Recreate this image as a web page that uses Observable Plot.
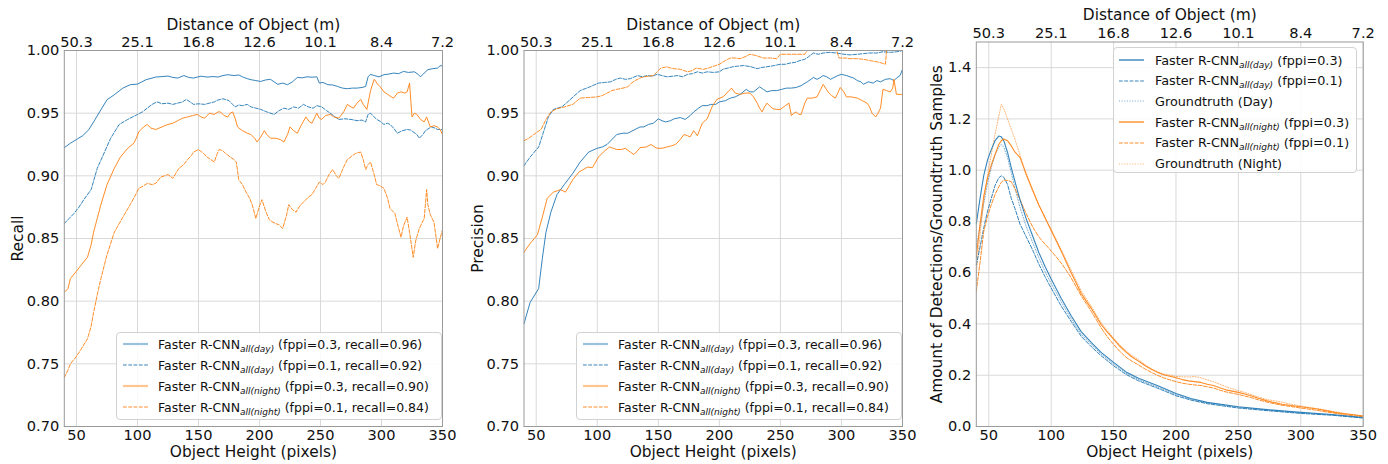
<!DOCTYPE html>
<html>
<head>
<meta charset="utf-8">
<script src="https://cdn.jsdelivr.net/npm/d3@7"></script>
<script src="https://cdn.jsdelivr.net/npm/@observablehq/plot@0.6"></script>
<style>
  html, body { margin: 0; padding: 0; background: #fff; }
  #wrap { position: relative; width: 1388px; height: 464px; font-family: "DejaVu Sans", sans-serif; }
  .panel { position: absolute; top: 0; }
  .legend { position: absolute; box-sizing: border-box; border: 1px solid #d2d2d2; border-radius: 4px;
            background: rgba(255,255,255,0.85); color: #111; }
  .row { position: absolute; left: 0; display: flex; align-items: center; white-space: nowrap; }
  .row svg { display: block; flex: none; }
  .row sub { font-size: 9px; font-style: italic; vertical-align: -3px; line-height: 0; }
</style>
</head>
<body>
<div id="wrap"></div>
<script>
// ---------------- axes ----------------
const xTicks = [50, 100, 150, 200, 250, 300, 350];
const distanceLabels = ["50.3", "25.1", "16.8", "12.6", "10.1", "8.4", "7.2"];
const rateTicks = [0.70, 0.75, 0.80, 0.85, 0.90, 0.95, 1.00];
const amountTicks = [0, 0.2, 0.4, 0.6, 0.8, 1.0, 1.2, 1.4];
const xLabel = "Object Height (pixels)";
const topLabel = "Distance of Object (m)";
const yLabels = ["Recall", "Precision", "Amount of Detections/Groundtruth Samples"];

// ---------------- legend texts ----------------
const legendRecall = [
  ["all(day)", " (fppi=0.3, recall=0.96)"],
  ["all(day)", " (fppi=0.1, recall=0.92)"],
  ["all(night)", " (fppi=0.3, recall=0.90)"],
  ["all(night)", " (fppi=0.1, recall=0.84)"]
];
const legendAmount = [
  ["Faster R-CNN", "all(day)", " (fppi=0.3)"],
  ["Faster R-CNN", "all(day)", " (fppi=0.1)"],
  ["Groundtruth (Day)", "", ""],
  ["Faster R-CNN", "all(night)", " (fppi=0.3)"],
  ["Faster R-CNN", "all(night)", " (fppi=0.1)"],
  ["Groundtruth (Night)", "", ""]
];

// ---------------- panel 1: recall ----------------
const recallDay03 = [[40,0.9225],[45,0.926],[50,0.929],[55,0.932],[60,0.9367],[64,0.943],[70,0.9527],[75,0.9607],[81,0.9647],[88,0.970],[94,0.9727],[100,0.9732],[107,0.9767],[115,0.9788],[120,0.9792],[125,0.9796],[129,0.9785],[133,0.978],[138,0.980],[142,0.9785],[146,0.978],[152,0.9795],[157,0.9788],[162,0.9792],[166,0.9788],[170,0.980],[174,0.9807],[179,0.980],[183,0.9805],[186,0.979],[190,0.9775],[193,0.9767],[197,0.976],[201,0.9753],[205,0.9765],[209,0.977],[212,0.975],[215,0.973],[219,0.974],[223,0.9727],[227,0.975],[231,0.9785],[235,0.9782],[239,0.979],[243,0.9787],[247,0.979],[249,0.974],[252,0.9745],[256,0.9727],[260,0.9725],[264,0.9713],[268,0.970],[272,0.9695],[276,0.970],[280,0.970],[284,0.9705],[287,0.9713],[289,0.979],[291,0.981],[294,0.980],[298,0.979],[302,0.9807],[306,0.9812],[310,0.982],[314,0.9815],[318,0.9833],[322,0.9825],[327,0.983],[330,0.981],[332,0.979],[335,0.982],[338,0.9847],[342,0.9855],[346,0.986],[348,0.9878],[350,0.9879]];
const recallDay01 = [[40,0.862],[44,0.866],[48,0.870],[52,0.875],[56,0.881],[62,0.889],[67,0.906],[73,0.919],[78,0.930],[85,0.941],[92,0.945],[100,0.949],[104,0.951],[108,0.954],[112,0.957],[116,0.959],[120,0.9575],[125,0.958],[129,0.957],[133,0.958],[137,0.959],[140,0.961],[143,0.959],[146,0.957],[150,0.9575],[155,0.957],[159,0.958],[163,0.959],[166,0.9605],[170,0.9615],[175,0.960],[178,0.957],[180,0.955],[183,0.9565],[186,0.956],[190,0.957],[193,0.955],[197,0.954],[201,0.953],[206,0.951],[212,0.949],[216,0.952],[220,0.954],[224,0.953],[228,0.955],[232,0.954],[236,0.957],[240,0.955],[244,0.954],[247,0.956],[251,0.955],[255,0.952],[258,0.950],[262,0.947],[265,0.945],[270,0.9455],[275,0.945],[280,0.944],[284,0.9445],[287,0.943],[289,0.949],[291,0.950],[294,0.947],[296,0.945],[299,0.9435],[302,0.941],[305,0.942],[307,0.941],[310,0.938],[313,0.934],[317,0.936],[321,0.937],[324,0.9365],[326,0.935],[329,0.933],[331,0.930],[334,0.933],[336,0.936],[339,0.938],[341,0.939],[344,0.938],[346,0.937],[350,0.937]];
const recallNight03 = [[40,0.807],[43,0.810],[45,0.818],[50,0.824],[54,0.829],[59,0.835],[62,0.845],[64,0.855],[67,0.866],[70,0.877],[75,0.893],[81,0.906],[86,0.915],[92,0.922],[97,0.926],[99,0.930],[101,0.935],[105,0.939],[108,0.941],[111,0.938],[115,0.937],[120,0.939],[125,0.941],[129,0.942],[133,0.944],[137,0.946],[141,0.947],[145,0.948],[149,0.949],[152,0.947],[155,0.946],[159,0.950],[163,0.949],[166,0.951],[168,0.951],[171,0.948],[174,0.947],[176,0.950],[178,0.951],[180,0.946],[182,0.939],[186,0.936],[190,0.934],[193,0.933],[196,0.930],[198,0.927],[201,0.931],[204,0.936],[206,0.933],[209,0.930],[213,0.930],[217,0.929],[220,0.927],[223,0.933],[225,0.939],[228,0.936],[231,0.934],[234,0.940],[238,0.947],[241,0.943],[243,0.942],[245,0.946],[247,0.950],[249,0.946],[251,0.945],[254,0.948],[258,0.949],[261,0.947],[265,0.946],[269,0.951],[272,0.957],[275,0.955],[277,0.954],[280,0.958],[283,0.961],[285,0.957],[288,0.953],[291,0.968],[294,0.977],[297,0.973],[299,0.971],[302,0.967],[305,0.965],[308,0.963],[310,0.962],[313,0.966],[316,0.967],[319,0.966],[321,0.967],[323,0.974],[325,0.947],[327,0.950],[329,0.949],[332,0.945],[335,0.943],[337,0.947],[340,0.939],[343,0.940],[346,0.939],[348,0.937],[350,0.933]];
const recallNight01 = [[40,0.739],[43,0.745],[45,0.750],[50,0.756],[54,0.762],[59,0.770],[62,0.780],[64,0.791],[67,0.805],[70,0.818],[75,0.837],[81,0.855],[88,0.867],[94,0.877],[98,0.884],[101,0.890],[105,0.892],[108,0.894],[112,0.893],[115,0.894],[119,0.899],[122,0.900],[125,0.901],[129,0.898],[132,0.903],[134,0.906],[138,0.909],[141,0.913],[144,0.916],[146,0.919],[150,0.921],[154,0.918],[157,0.915],[160,0.913],[163,0.911],[165,0.917],[167,0.921],[170,0.920],[172,0.918],[176,0.915],[179,0.913],[181,0.911],[183,0.897],[186,0.893],[189,0.887],[192,0.882],[194,0.877],[197,0.866],[200,0.876],[202,0.881],[205,0.872],[208,0.865],[211,0.863],[213,0.862],[216,0.861],[219,0.858],[222,0.868],[224,0.877],[227,0.873],[230,0.871],[233,0.876],[236,0.879],[240,0.883],[243,0.885],[246,0.890],[249,0.895],[252,0.893],[254,0.895],[257,0.901],[260,0.905],[263,0.900],[265,0.898],[269,0.907],[272,0.913],[276,0.916],[279,0.918],[283,0.919],[285,0.913],[287,0.905],[289,0.909],[291,0.911],[294,0.901],[296,0.893],[299,0.892],[302,0.890],[305,0.882],[307,0.874],[311,0.870],[313,0.862],[316,0.851],[318,0.860],[321,0.867],[323,0.855],[326,0.835],[328,0.848],[331,0.858],[333,0.862],[335,0.866],[337,0.889],[338,0.877],[340,0.869],[343,0.863],[346,0.842],[348,0.850],[350,0.857]];

// ---------------- panel 2: precision ----------------
const precisionDay03 = [[40,0.782],[45,0.799],[52,0.810],[55,0.834],[58,0.855],[62,0.871],[67,0.885],[73,0.893],[80,0.902],[86,0.911],[93,0.919],[100,0.922],[104,0.923],[108,0.925],[112,0.929],[116,0.933],[121,0.934],[125,0.934],[131,0.937],[135,0.939],[138,0.939],[142,0.941],[146,0.942],[150,0.9455],[153,0.944],[156,0.943],[160,0.944],[163,0.9455],[168,0.9465],[172,0.945],[176,0.948],[179,0.951],[183,0.954],[186,0.956],[190,0.956],[193,0.957],[197,0.957],[200,0.959],[205,0.960],[209,0.962],[213,0.963],[217,0.965],[222,0.969],[225,0.967],[228,0.967],[233,0.971],[236,0.969],[239,0.967],[243,0.968],[247,0.968],[251,0.969],[255,0.970],[259,0.970],[263,0.9705],[267,0.972],[272,0.975],[275,0.977],[277,0.9785],[280,0.977],[282,0.978],[285,0.980],[288,0.979],[291,0.977],[293,0.978],[297,0.980],[300,0.981],[304,0.980],[307,0.979],[310,0.978],[313,0.976],[316,0.975],[318,0.973],[322,0.975],[326,0.974],[329,0.976],[332,0.975],[336,0.977],[340,0.9775],[343,0.976],[345,0.978],[348,0.980],[350,0.985]];
const precisionDay01 = [[40,0.908],[45,0.915],[52,0.923],[56,0.935],[60,0.947],[64,0.953],[71,0.955],[78,0.961],[86,0.968],[94,0.971],[101,0.974],[106,0.9745],[111,0.975],[115,0.977],[119,0.978],[123,0.977],[127,0.9775],[133,0.980],[137,0.979],[141,0.980],[145,0.9795],[149,0.981],[153,0.980],[157,0.979],[162,0.9795],[166,0.980],[170,0.979],[174,0.981],[178,0.9815],[182,0.983],[186,0.982],[190,0.983],[195,0.9825],[200,0.983],[203,0.985],[207,0.986],[211,0.987],[215,0.9875],[220,0.988],[226,0.987],[231,0.9855],[235,0.9865],[239,0.987],[245,0.988],[250,0.989],[254,0.989],[258,0.990],[262,0.9905],[266,0.992],[270,0.993],[273,0.995],[277,0.998],[281,0.997],[285,0.998],[290,0.9985],[296,0.998],[299,0.9975],[302,0.997],[307,0.9965],[313,0.997],[318,0.9975],[323,0.998],[329,0.998],[334,0.999],[340,0.9985],[345,0.999],[348,0.9995],[350,1.0]];
const precisionNight03 = [[40,0.839],[45,0.846],[51,0.853],[55,0.867],[59,0.882],[64,0.887],[70,0.889],[74,0.887],[77,0.892],[80,0.897],[85,0.903],[92,0.907],[96,0.9065],[101,0.915],[105,0.919],[110,0.923],[113,0.922],[116,0.921],[120,0.921],[123,0.922],[127,0.919],[130,0.917],[133,0.920],[135,0.9225],[140,0.923],[144,0.925],[147,0.923],[149,0.922],[153,0.922],[157,0.923],[161,0.924],[164,0.925],[168,0.929],[171,0.933],[174,0.932],[176,0.931],[179,0.936],[182,0.932],[184,0.937],[186,0.942],[190,0.9455],[194,0.955],[198,0.961],[203,0.963],[207,0.967],[210,0.970],[213,0.966],[217,0.965],[221,0.966],[225,0.966],[228,0.963],[231,0.958],[233,0.954],[235,0.951],[237,0.955],[239,0.958],[242,0.955],[244,0.9535],[247,0.953],[250,0.953],[254,0.956],[257,0.958],[259,0.948],[261,0.950],[263,0.951],[265,0.949],[267,0.949],[270,0.958],[272,0.962],[276,0.962],[280,0.963],[283,0.969],[285,0.973],[287,0.970],[289,0.967],[292,0.964],[295,0.962],[297,0.966],[299,0.9705],[302,0.967],[304,0.963],[308,0.963],[313,0.962],[317,0.960],[321,0.958],[323,0.955],[325,0.950],[328,0.947],[330,0.950],[332,0.954],[334,0.969],[337,0.968],[340,0.967],[342,0.970],[343,0.977],[345,0.965],[348,0.965],[350,0.965]];
const precisionNight01 = [[40,0.928],[44,0.930],[48,0.933],[54,0.937],[58,0.945],[62,0.951],[67,0.9535],[73,0.955],[80,0.957],[86,0.962],[93,0.9625],[100,0.963],[104,0.964],[108,0.966],[112,0.968],[116,0.969],[121,0.970],[125,0.971],[128,0.974],[131,0.976],[135,0.978],[138,0.979],[142,0.9795],[146,0.980],[149,0.983],[152,0.986],[155,0.9865],[157,0.987],[160,0.986],[163,0.9855],[168,0.985],[171,0.984],[174,0.983],[178,0.984],[181,0.986],[184,0.9855],[187,0.985],[191,0.986],[194,0.987],[197,0.988],[200,0.989],[205,0.992],[209,0.994],[213,0.994],[217,0.9935],[221,0.995],[225,0.997],[230,0.996],[236,0.994],[242,0.994],[247,0.9935],[250,0.997],[255,0.997],[261,0.997],[266,0.997],[270,0.997],[272,1.0],[278,1.0],[283,1.0],[290,1.0],[296,1.0],[298,0.994],[303,0.994],[307,0.9935],[312,0.9935],[318,0.993],[323,0.992],[329,0.991],[333,0.990],[336,0.989],[337,1.0],[343,1.0],[350,1.0]];

// ---------------- panel 3: amount of detections / groundtruth ----------------
const amountDay03 = [[40,0.79],[43,0.89],[46,0.98],[49,1.04],[52,1.08],[55,1.115],[58,1.133],[60,1.13],[62,1.115],[65,1.07],[68,1.01],[71,0.955],[75,0.885],[80,0.81],[85,0.745],[90,0.68],[95,0.625],[100,0.575],[108,0.50],[116,0.432],[124,0.37],[132,0.328],[140,0.289],[150,0.25],[160,0.213],[170,0.188],[185,0.16],[200,0.129],[212,0.109],[225,0.094],[250,0.077],[275,0.065],[300,0.055],[325,0.047],[350,0.035]];
const amountDay01 = [[40,0.63],[43,0.70],[46,0.775],[49,0.84],[52,0.89],[55,0.94],[58,0.97],[60,0.978],[62,0.972],[65,0.945],[68,0.89],[71,0.85],[75,0.79],[80,0.74],[85,0.69],[90,0.635],[95,0.585],[100,0.54],[108,0.47],[116,0.41],[124,0.352],[132,0.312],[140,0.276],[150,0.237],[160,0.203],[170,0.178],[185,0.150],[200,0.120],[212,0.103],[225,0.089],[250,0.072],[275,0.061],[300,0.051],[325,0.044],[350,0.033]];
const groundtruthDay = [[40,0.70],[43,0.78],[46,0.87],[49,0.95],[52,1.01],[55,1.06],[58,1.09],[60,1.10],[62,1.09],[65,1.05],[68,0.99],[71,0.93],[75,0.855],[80,0.78],[85,0.72],[90,0.66],[95,0.605],[100,0.558],[108,0.487],[116,0.42],[124,0.36],[132,0.32],[140,0.283],[150,0.244],[160,0.208],[170,0.183],[185,0.155],[200,0.125],[212,0.106],[225,0.092],[250,0.075],[275,0.063],[300,0.053],[325,0.045],[350,0.034]];
const amountNight03 = [[40,0.66],[43,0.79],[46,0.90],[49,0.97],[52,1.02],[55,1.06],[58,1.10],[60,1.115],[62,1.122],[65,1.115],[68,1.095],[71,1.07],[75,1.05],[80,0.985],[85,0.925],[90,0.865],[95,0.815],[100,0.765],[104,0.725],[108,0.685],[112,0.642],[116,0.60],[120,0.56],[124,0.52],[128,0.49],[132,0.462],[136,0.43],[140,0.398],[145,0.368],[150,0.341],[155,0.313],[160,0.29],[165,0.27],[170,0.255],[175,0.238],[180,0.224],[185,0.212],[190,0.202],[195,0.196],[200,0.19],[205,0.183],[210,0.178],[215,0.175],[220,0.172],[225,0.165],[230,0.16],[235,0.151],[240,0.143],[245,0.138],[250,0.133],[255,0.127],[260,0.12],[266,0.11],[273,0.10],[279,0.093],[285,0.087],[292,0.082],[300,0.077],[306,0.073],[313,0.068],[320,0.062],[327,0.055],[335,0.05],[342,0.046],[350,0.042]];
const amountNight01 = [[40,0.527],[43,0.64],[46,0.762],[49,0.82],[52,0.865],[55,0.905],[58,0.935],[60,0.952],[62,0.961],[65,0.96],[68,0.955],[71,0.927],[75,0.885],[80,0.83],[85,0.78],[90,0.74],[95,0.712],[100,0.685],[104,0.662],[108,0.638],[112,0.61],[116,0.58],[120,0.545],[124,0.51],[128,0.48],[132,0.45],[136,0.418],[140,0.385],[145,0.35],[150,0.32],[155,0.293],[160,0.27],[165,0.254],[170,0.24],[175,0.225],[180,0.212],[185,0.2],[190,0.19],[195,0.182],[200,0.175],[205,0.169],[210,0.165],[215,0.162],[220,0.16],[225,0.155],[230,0.15],[235,0.142],[240,0.135],[245,0.13],[250,0.125],[255,0.119],[260,0.113],[266,0.104],[273,0.095],[279,0.089],[285,0.083],[292,0.078],[300,0.072],[306,0.068],[313,0.063],[320,0.057],[327,0.052],[335,0.046],[342,0.042],[350,0.038]];
const groundtruthNight = [[40,0.60],[43,0.75],[46,0.88],[49,0.98],[52,1.06],[55,1.14],[58,1.21],[60,1.256],[62,1.24],[65,1.20],[68,1.16],[71,1.12],[75,1.06],[80,0.98],[85,0.92],[90,0.865],[95,0.815],[100,0.77],[104,0.73],[108,0.69],[112,0.65],[116,0.61],[120,0.57],[124,0.53],[128,0.5],[132,0.47],[136,0.437],[140,0.405],[145,0.373],[150,0.345],[155,0.318],[160,0.295],[165,0.276],[170,0.26],[175,0.242],[180,0.225],[185,0.214],[190,0.205],[195,0.2],[200,0.195],[205,0.194],[210,0.193],[215,0.195],[220,0.19],[225,0.182],[230,0.175],[235,0.165],[240,0.155],[245,0.147],[250,0.14],[255,0.133],[260,0.125],[266,0.115],[273,0.105],[279,0.1],[285,0.095],[292,0.087],[300,0.08],[306,0.075],[313,0.07],[320,0.064],[327,0.058],[335,0.051],[342,0.046],[350,0.04]];

// ---------------- styling ----------------
const BLUE = "#1f77b4", ORANGE = "#ff7f0e";
const DASH = "3.7,1.6", DOT = "1,1.65";
const gridColor = "#d9d9d9";

function makePanel(cfg) {
  const lines = cfg.series.map(s => Plot.line(s.data, {
    x: d => d[0], y: d => d[1], stroke: s.color, strokeWidth: s.width || 1,
    strokeOpacity: s.opacity, strokeDasharray: s.dash, clip: true
  }));
  return Plot.plot({
    width: cfg.width, height: 464,
    marginTop: cfg.mt, marginBottom: 38, marginLeft: cfg.ml, marginRight: cfg.mr,
    x: { domain: [40, 350] },
    y: { domain: cfg.yDomain },
    style: { fontFamily: "DejaVu Sans, sans-serif", fontSize: "14.6px", color: "#111", background: "white", overflow: "visible" },
    marks: [
      Plot.gridX(xTicks, { stroke: gridColor, strokeOpacity: 1 }),
      Plot.gridY(cfg.yTicks, { stroke: gridColor, strokeOpacity: 1 }),
      ...lines,
      Plot.frame({ stroke: "#9a9a9a" }),
      Plot.axisX(xTicks, { anchor: "bottom", tickSize: 0, tickPadding: 3, label: null }),
      Plot.axisX(xTicks, { anchor: "top", tickSize: 0, tickPadding: 4, label: null,
        tickFormat: d => distanceLabels[xTicks.indexOf(d)] }),
      Plot.axisY(cfg.yTicks, { anchor: "left", tickSize: 0, tickPadding: 5, label: null, tickFormat: cfg.fmt }),
      Plot.text([cfg.yLabel], { text: d => d, frameAnchor: "left", dx: cfg.yLabelDx, rotate: -90,
        textAnchor: "middle", lineAnchor: "middle", fontSize: 15.4 }),
      Plot.text([xLabel], { text: d => d, frameAnchor: "bottom", dy: 25.5, lineAnchor: "middle", fontSize: 15.4 }),
      Plot.text([topLabel], { text: d => d, frameAnchor: "top", dy: cfg.topDy, lineAnchor: "middle", fontSize: 15.4 })
    ]
  });
}

function legendSample(color, dash, width, opacity) {
  const ns = "http://www.w3.org/2000/svg";
  const svg = document.createElementNS(ns, "svg");
  svg.setAttribute("width", 25); svg.setAttribute("height", 8);
  const l = document.createElementNS(ns, "line");
  l.setAttribute("x1", 0); l.setAttribute("x2", 25); l.setAttribute("y1", 4); l.setAttribute("y2", 4);
  l.setAttribute("stroke", color); l.setAttribute("stroke-width", width);
  l.setAttribute("stroke-opacity", opacity);
  if (dash) l.setAttribute("stroke-dasharray", dash);
  svg.appendChild(l);
  return svg;
}

function makeLegend(parent, box, items, rowH, firstCenter, sampleLeft, textGap, fontSize) {
  const div = document.createElement("div");
  div.className = "legend";
  Object.assign(div.style, { left: box[0] + "px", top: box[1] + "px", width: box[2] + "px", height: box[3] + "px", fontSize: fontSize + "px" });
  items.forEach((it, i) => {
    const row = document.createElement("div");
    row.className = "row";
    row.style.top = (firstCenter + i * rowH - 10) + "px";
    row.style.height = "20px";
    row.style.left = sampleLeft + "px";
    const sample = legendSample(it.color, it.dash, it.width, it.opacity);
    sample.style.marginRight = textGap + "px";
    row.appendChild(sample);
    const span = document.createElement("span");
    span.appendChild(document.createTextNode(it.main));
    if (it.sub) {
      const sub = document.createElement("sub");
      sub.textContent = it.sub;
      span.appendChild(sub);
    }
    span.appendChild(document.createTextNode(it.tail));
    row.appendChild(span);
    div.appendChild(row);
  });
  parent.appendChild(div);
}

const wrap = document.getElementById("wrap");
function place(el, left) {
  const d = document.createElement("div");
  d.className = "panel";
  d.style.left = left + "px";
  d.appendChild(el);
  wrap.appendChild(d);
}

const rateFmt = d3.format(".2f");
const amountFmt = d3.format(".1f");

const recallSeries = [
  { data: recallDay03, color: BLUE, opacity: 0.9 },
  { data: recallDay01, color: BLUE, opacity: 0.9, dash: DASH },
  { data: recallNight03, color: ORANGE, opacity: 0.9 },
  { data: recallNight01, color: ORANGE, opacity: 0.9, dash: DASH }
];
const precisionSeries = [
  { data: precisionDay03, color: BLUE, opacity: 0.9 },
  { data: precisionDay01, color: BLUE, opacity: 0.9, dash: DASH },
  { data: precisionNight03, color: ORANGE, opacity: 0.9 },
  { data: precisionNight01, color: ORANGE, opacity: 0.9, dash: DASH }
];
const amountSeries = [
  { data: groundtruthDay, color: BLUE, opacity: 0.6, dash: DOT },
  { data: groundtruthNight, color: ORANGE, opacity: 0.6, dash: DOT },
  { data: amountDay01, color: BLUE, opacity: 0.9, dash: DASH },
  { data: amountNight01, color: ORANGE, opacity: 0.9, dash: DASH },
  { data: amountDay03, color: BLUE, opacity: 0.9, width: 1.1 },
  { data: amountNight03, color: ORANGE, opacity: 0.9, width: 1.1 }
];

place(makePanel({ width: 460, ml: 63.8, mr: 18, mt: 50, yDomain: [0.70, 1.00], yTicks: rateTicks, fmt: rateFmt,
  yLabel: yLabels[0], yLabelDx: -46, topDy: -25, series: recallSeries }), 0);
place(makePanel({ width: 460, ml: 63.5, mr: 18, mt: 50, yDomain: [0.70, 1.00], yTicks: rateTicks, fmt: rateFmt,
  yLabel: yLabels[1], yLabelDx: -45.5, topDy: -25, series: precisionSeries }), 460);
place(makePanel({ width: 468, ml: 55.8, mr: 25.3, mt: 41.5, yDomain: [0, 1.5], yTicks: amountTicks, fmt: amountFmt,
  yLabel: yLabels[2], yLabelDx: -39, topDy: -26.5, series: amountSeries }), 920);

const rateLegendStyles = [
  { color: BLUE, dash: null }, { color: BLUE, dash: DASH },
  { color: ORANGE, dash: null }, { color: ORANGE, dash: DASH }
];
const rateItems = legendRecall.map((t, i) => ({
  main: "Faster R-CNN", sub: t[0], tail: t[1], color: rateLegendStyles[i].color,
  dash: rateLegendStyles[i].dash, width: 2.2, opacity: 0.45
}));
makeLegend(wrap, [116, 332, 326, 88], rateItems, 21, 11, 6, 10, 12.5);
makeLegend(wrap, [576, 332, 326, 88], rateItems, 21, 11, 6, 10, 12.5);

const amountLegendStyles = [
  { color: BLUE, dash: null, width: 1.4, opacity: 0.9 },
  { color: BLUE, dash: DASH, width: 1.2, opacity: 0.9 },
  { color: BLUE, dash: DOT, width: 1.2, opacity: 0.6 },
  { color: ORANGE, dash: null, width: 2, opacity: 0.6 },
  { color: ORANGE, dash: DASH, width: 1.2, opacity: 0.9 },
  { color: ORANGE, dash: DOT, width: 1.2, opacity: 0.6 }
];
const amountItems = legendAmount.map((t, i) => ({
  main: t[0], sub: t[1], tail: t[2], ...amountLegendStyles[i]
}));
makeLegend(wrap, [1113, 47, 244, 126], amountItems, 20.7, 12, 5, 11, 12.8);
</script>
</body>
</html>
